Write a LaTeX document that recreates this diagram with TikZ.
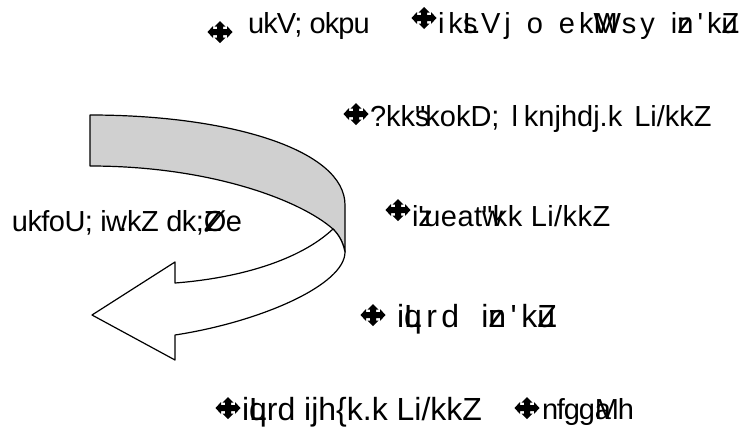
\documentclass[tikz,border=0pt]{standalone}
\usepackage{fontspec}
\newfontfamily\kd{Liberation Sans}
\newcommand\ov[1]{\rlap{#1}}
\newcommand\ws[1]{\hspace*{#1pt}}
\definecolor{bandgray}{RGB}{208,208,208}
\tikzset{
  lbl/.style={anchor=base west, inner sep=0pt, outer sep=0pt, font=\kd\fontsize{29}{34}\selectfont},
  big/.style={font=\kd\fontsize{32}{38}\selectfont},
  arrowpart/.style={draw=black, line width=1.2pt, line join=round},
  bul/.pic={\fill[black] (0,-11) -- (5.5,-5.5) -- (3,-5.5) -- (3,-3) -- (7,-3) -- (7,-6) -- (12.5,0) -- (7,6) -- (7,3) -- (3,3) -- (3,5.5) -- (5.5,5.5) -- (0,11) -- (-5.5,5.5) -- (-3,5.5) -- (-3,3) -- (-7,3) -- (-7,6) -- (-12.5,0) -- (-7,-6) -- (-7,-3) -- (-3,-3) -- (-3,-5.5) -- (-5.5,-5.5) -- cycle;}
}
\begin{document}
\begin{tikzpicture}[x=1pt,y=-1pt]
\useasboundingbox (0,0) rectangle (739,440);
% curved arrow
\path[arrowpart, fill=bandgray] (90,115) .. controls (230,115) and (345,150) .. (345,205) -- (345,252)
  .. controls (343,242) and (339,235) .. (333,229)
  .. controls (300,200) and (210,166) .. (90,166) -- cycle;
\path[arrowpart, fill=white] (333,229) .. controls (300,260) and (240,278) .. (175,283)
  -- (175,262) -- (92,315) -- (175,360) -- (175,335)
  .. controls (260,322) and (345,285) .. (345,252)
  .. controls (343,242) and (339,235) .. (333,229) -- cycle;
% bullets
\pic (b1) at (220,32) {bul};
\pic (b2) at (424,18) {bul};
\pic (b3) at (356,114) {bul};
\pic (b4) at (398,210) {bul};
\pic (b5) at (373,315) {bul};
\pic (b6) at (228,408) {bul};
\pic (b7) at (527,408) {bul};
% texts
\node[lbl] (t1) at (248,33) {\addfontfeature{LetterSpace=-3}ukV; okpu};
\node[lbl] (t2) at (438,33) {\addfontfeature{LetterSpace=14}ik\ov{s}LVj\ws{16}o\ws{16}ek\ov{W}Msy\ws{16}i\ov{z}n'k\ov{Z}u};
\node[lbl] (t3) at (370,126) {?kk\ov{s}"kokD;\ws{12}l\ws{6}knjhdj.k\ws{12}Li/kkZ};
\node[lbl] (t4) at (12,231) {\addfontfeature{LetterSpace=-2}ukfoU; iw\llap{.}kZ dk;\ov{Z}Øe};
\node[lbl] (t5) at (412,226) {\addfontfeature{LetterSpace=1.5}i\ov{z}'ueat\ov{w}"kk Li/kkZ};
\node[lbl, big] (t6) at (397,327) {\addfontfeature{LetterSpace=14}i\ov{q}Lrd\ws{22}i\ov{z}n'k\ov{Z}u};
\node[lbl, big] (t7) at (242,420) {i\ov{q}Lrd ijh\{k.k Li/kkZ};
\node[lbl] (t8) at (542,419) {\addfontfeature{LetterSpace=-4}nfgg\ov{a}Mh};
\end{tikzpicture}
\end{document}
